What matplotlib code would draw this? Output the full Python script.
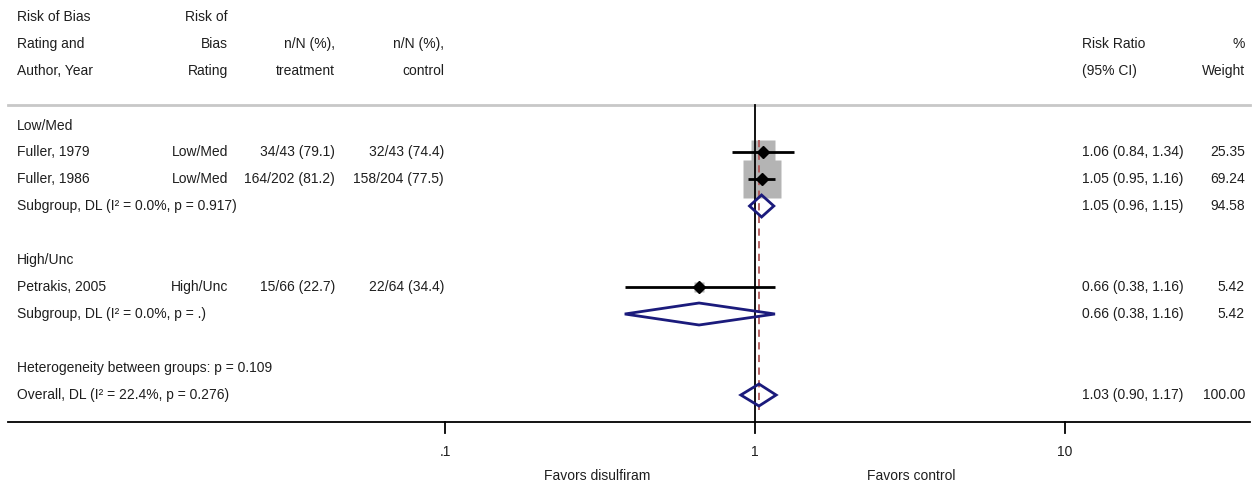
import numpy as np
import matplotlib
matplotlib.use("Agg")
import matplotlib.pyplot as plt
from matplotlib.patches import Polygon
from matplotlib.transforms import blended_transform_factory

plt.rcParams['font.family'] = ['Liberation Sans', 'DejaVu Sans']

# study level data
studies = ["Fuller, 1979", "Fuller, 1986", "Petrakis, 2005"]
ratings = ["Low/Med", "Low/Med", "High/Unc"]
treat = ["34/43 (79.1)", "164/202 (81.2)", "15/66 (22.7)"]
control = ["32/43 (74.4)", "158/204 (77.5)", "22/64 (34.4)"]
rr = [1.06, 1.05, 0.66]
lo = [0.84, 0.95, 0.38]
hi = [1.34, 1.16, 1.16]
weight = [25.35, 69.24, 5.42]

# subgroup pooled results
groups = ["Low/Med", "High/Unc"]
sub_labels = ["Subgroup, DL (I² = 0.0%, p = 0.917)", "Subgroup, DL (I² = 0.0%, p = .)"]
sub_rr = [1.05, 0.66]
sub_lo = [0.96, 0.38]
sub_hi = [1.15, 1.16]
sub_weight = [94.58, 5.42]

het_label = "Heterogeneity between groups: p = 0.109"
overall_label = "Overall, DL (I² = 22.4%, p = 0.276)"
overall = [1.03, 0.90, 1.17, 100.00]

ticks = [0.1, 1, 10]
tick_labels = [".1", "1", "10"]

# layout (pixel rows, figure is 1255x490)
W, H = 1255, 490
study_y = [152, 179, 287]
group_y = [126, 260]
sub_y = [206, 314]
het_y = 368
overall_y = 395
axis_y = 422
top_line_y = 105
x1_px, decade_px = 755, 310

fig = plt.figure(figsize=(W / 100, H / 100), dpi=100)
ax = fig.add_axes([0, 0, 1, 1])
ax.set_xscale('log')
ax.set_xlim(10 ** (-x1_px / decade_px), 10 ** ((W - x1_px) / decade_px))
ax.set_ylim(H, 0)
ax.axis('off')
tr = blended_transform_factory(ax.transAxes, ax.transData)
fs = 10
txt = dict(transform=tr, fontsize=fs, va='center', color='#1e1e1e')

def px(x):
    return x / W

# header
for i, y in enumerate([17, 44, 71]):
    ax.text(px(17), y, ["Risk of Bias", "Rating and", "Author, Year"][i], ha='left', **txt)
    ax.text(px(228), y, ["Risk of", "Bias", "Rating"][i], ha='right', **txt)
ax.text(px(335), 44, "n/N (%),", ha='right', **txt)
ax.text(px(335), 71, "treatment", ha='right', **txt)
ax.text(px(444), 44, "n/N (%),", ha='right', **txt)
ax.text(px(444), 71, "control", ha='right', **txt)
ax.text(px(1082), 44, "Risk Ratio", ha='left', **txt)
ax.text(px(1082), 71, "(95% CI)", ha='left', **txt)
ax.text(px(1245), 44, "%", ha='right', **txt)
ax.text(px(1245), 71, "Weight", ha='right', **txt)
ax.plot([px(8), px(1250)], [top_line_y, top_line_y], transform=tr, color='#c8c8c8', lw=2)

# group labels
for g, y in zip(groups, group_y):
    ax.text(px(17), y, g, ha='left', **txt)

# studies
for i, y in enumerate(study_y):
    ax.text(px(17), y, studies[i], ha='left', **txt)
    ax.text(px(228), y, ratings[i], ha='right', **txt)
    ax.text(px(335), y, treat[i], ha='right', **txt)
    ax.text(px(444), y, control[i], ha='right', **txt)
    ax.text(px(1082), y, f"{rr[i]:.2f} ({lo[i]:.2f}, {hi[i]:.2f})", ha='left', **txt)
    ax.text(px(1245), y, f"{weight[i]:.2f}", ha='right', **txt)
    side = 4.6 * np.sqrt(weight[i]) * 0.72
    ax.plot(rr[i], y, marker='s', markersize=side, color='#b4b4b4', mec='none', zorder=1)
    ax.plot([lo[i], hi[i]], [y, y], color='black', lw=2, zorder=4, solid_capstyle='butt')
    ax.plot(rr[i], y, marker='D', markersize=6, color='black', zorder=5)

def diamond(est, l, h, y, half=11):
    poly = Polygon([(l, y), (est, y - half), (h, y), (est, y + half)], closed=True,
                   fill=False, edgecolor='#1b1b7c', lw=2, zorder=5, joinstyle='miter')
    ax.add_patch(poly)

for i, y in enumerate(sub_y):
    ax.text(px(17), y, sub_labels[i], ha='left', **txt)
    ax.text(px(1082), y, f"{sub_rr[i]:.2f} ({sub_lo[i]:.2f}, {sub_hi[i]:.2f})", ha='left', **txt)
    ax.text(px(1245), y, f"{sub_weight[i]:.2f}", ha='right', **txt)
    diamond(sub_rr[i], sub_lo[i], sub_hi[i], y)

ax.text(px(17), het_y, het_label, ha='left', **txt)
ax.text(px(17), overall_y, overall_label, ha='left', **txt)
ax.text(px(1082), overall_y, f"{overall[0]:.2f} ({overall[1]:.2f}, {overall[2]:.2f})", ha='left', **txt)
ax.text(px(1245), overall_y, f"{overall[3]:.2f}", ha='right', **txt)
diamond(overall[0], overall[1], overall[2], overall_y)

# reference lines
ax.plot([1, 1], [top_line_y, axis_y], color='black', lw=1.3, zorder=3)
ax.plot([overall[0], overall[0]], [140, axis_y - 12], color='#b05858', lw=1.3,
        ls=(0, (4, 3)), zorder=3)

# x axis
ax.plot([px(8), px(1250)], [axis_y, axis_y], transform=tr, color='black', lw=1.3)
for t, lab in zip(ticks, tick_labels):
    ax.plot([t, t], [axis_y, axis_y + 11], color='black', lw=1.3)
    ax.text(t, 452, lab, ha='center', va='center', fontsize=fs, color='#1e1e1e')
ax.text(px(597), 476, "Favors disulfiram", ha='center', **txt)
ax.text(px(911), 476, "Favors control", ha='center', **txt)

fig.savefig("out.png", dpi=100)
